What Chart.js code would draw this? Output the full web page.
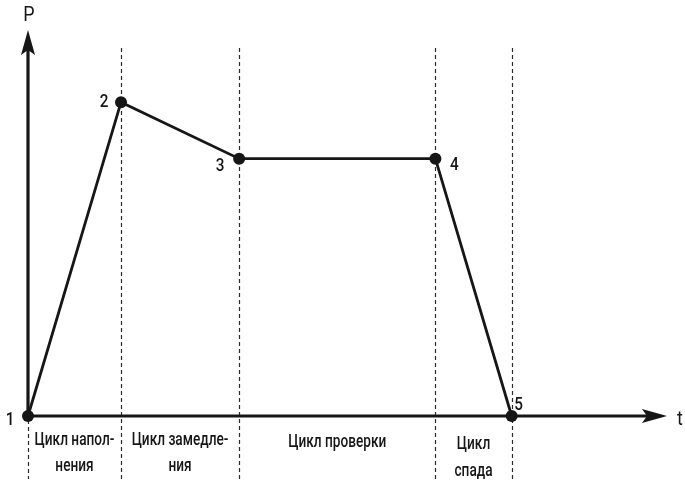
<!DOCTYPE html>
<html>
<head>
<meta charset="utf-8">
<script src="https://cdn.jsdelivr.net/npm/chart.js@4"></script>
<style>
html,body{margin:0;padding:0;background:#fff;}
#wrap{width:685px;height:484px;position:relative;}
</style>
</head>
<body>
<div id="wrap"><canvas id="c"></canvas></div>
<script>
// ---- data ----
const times = [0, 1, 2.27, 4.38, 5.2];
const pressure = [0, 10, 8.2, 8.2, 0];
const pointLabels = ['1', '2', '3', '4', '5'];
const phaseLabels = [['Цикл напол-', 'нения'], ['Цикл замедле-', 'ния'], ['Цикл проверки'], ['Цикл', 'спада']];
const axisLabels = { x: 't', y: 'P' };

const FONT = 'Roboto, "DejaVu Sans Condensed", sans-serif';
const INK = '#161616';

// offsets of point number labels (styling, not data)
const labelOffsets = [[-18, 4], [-17, 0], [-19, 8], [19, 7], [7, -11]];

function narrowText(ctx, txt, x, y, sx) {
  ctx.save();
  ctx.translate(x, y);
  ctx.scale(sx, 1);
  ctx.fillText(txt, 0, 0);
  ctx.restore();
}

const overlay = {
  id: 'overlay',
  beforeDatasetsDraw(chart) {
    const ctx = chart.ctx;
    const xs = chart.scales.x, ys = chart.scales.y;
    const area = chart.chartArea;
    const x0 = xs.getPixelForValue(0), y0 = ys.getPixelForValue(0);
    ctx.save();
    // dashed verticals
    ctx.strokeStyle = '#2a2a2a';
    ctx.lineWidth = 1.2;
    ctx.setLineDash([4, 3]);
    times.forEach((t, i) => {
      const px = Math.round(xs.getPixelForValue(t)) + 0.5;
      ctx.beginPath();
      ctx.moveTo(px, i === 0 ? y0 + 4 : 48);
      ctx.lineTo(px, 479);
      ctx.stroke();
    });
    ctx.setLineDash([]);
    // axes
    ctx.strokeStyle = INK;
    ctx.fillStyle = INK;
    ctx.lineWidth = 3.2;
    ctx.beginPath();
    ctx.moveTo(x0, y0);
    ctx.lineTo(x0, area.top + 18);
    ctx.moveTo(x0, y0);
    ctx.lineTo(area.right - 18, y0);
    ctx.stroke();
    // arrow heads
    const tipY = area.top, tipX = area.right;
    ctx.beginPath();
    ctx.moveTo(x0, tipY);
    ctx.lineTo(x0 + 7, tipY + 25);
    ctx.lineTo(x0, tipY + 20);
    ctx.lineTo(x0 - 7, tipY + 25);
    ctx.closePath();
    ctx.fill();
    ctx.beginPath();
    ctx.moveTo(tipX, y0);
    ctx.lineTo(tipX - 25, y0 - 7);
    ctx.lineTo(tipX - 20, y0);
    ctx.lineTo(tipX - 25, y0 + 7);
    ctx.closePath();
    ctx.fill();
    ctx.restore();
  },
  afterDraw(chart) {
    const ctx = chart.ctx;
    const xs = chart.scales.x, ys = chart.scales.y;
    const area = chart.chartArea;
    const x0 = xs.getPixelForValue(0), y0 = ys.getPixelForValue(0);
    ctx.save();
    ctx.fillStyle = INK;
    ctx.textAlign = 'center';
    ctx.textBaseline = 'middle';
    // axis labels
    ctx.font = '21px ' + FONT;
    narrowText(ctx, axisLabels.y, x0 + 1, 16, 0.85);
    narrowText(ctx, axisLabels.x, area.right + 13, y0 + 4, 0.85);
    // point labels
    ctx.font = '500 18px ' + FONT;
    times.forEach((t, i) => {
      const px = xs.getPixelForValue(t), py = ys.getPixelForValue(pressure[i]);
      narrowText(ctx, pointLabels[i], px + labelOffsets[i][0], py + labelOffsets[i][1], 0.85);
    });
    // phase labels
    ctx.font = '500 17.5px ' + FONT;
    phaseLabels.forEach((lines, i) => {
      const cx = (xs.getPixelForValue(times[i]) + xs.getPixelForValue(times[i + 1])) / 2;
      const startY = lines.length === 1 ? y0 + 27 : (i === 3 ? y0 + 29 : y0 + 25);
      const gap = i === 3 ? 27 : 26;
      lines.forEach((ln, j) => narrowText(ctx, ln, cx, startY + j * gap, 0.78));
    });
    ctx.restore();
  }
};

new Chart(document.getElementById('c'), {
  type: 'line',
  data: {
    datasets: [{
      data: times.map((t, i) => ({ x: t, y: pressure[i] })),
      borderColor: INK,
      backgroundColor: INK,
      borderWidth: 2.8,
      pointRadius: 6,
      pointHoverRadius: 6,
      pointBackgroundColor: INK,
      pointBorderWidth: 0,
      tension: 0,
      clip: false
    }]
  },
  options: {
    responsive: true,
    maintainAspectRatio: false,
    animation: false,
    events: [],
    layout: { padding: { left: 28, right: 18, top: 30, bottom: 68 } },
    plugins: { legend: { display: false }, tooltip: { enabled: false } },
    scales: {
      x: { type: 'linear', min: 0, max: 6.87, display: false },
      y: { type: 'linear', min: 0, max: 12.3, display: false }
    }
  },
  plugins: [overlay]
});
</script>
</body>
</html>
